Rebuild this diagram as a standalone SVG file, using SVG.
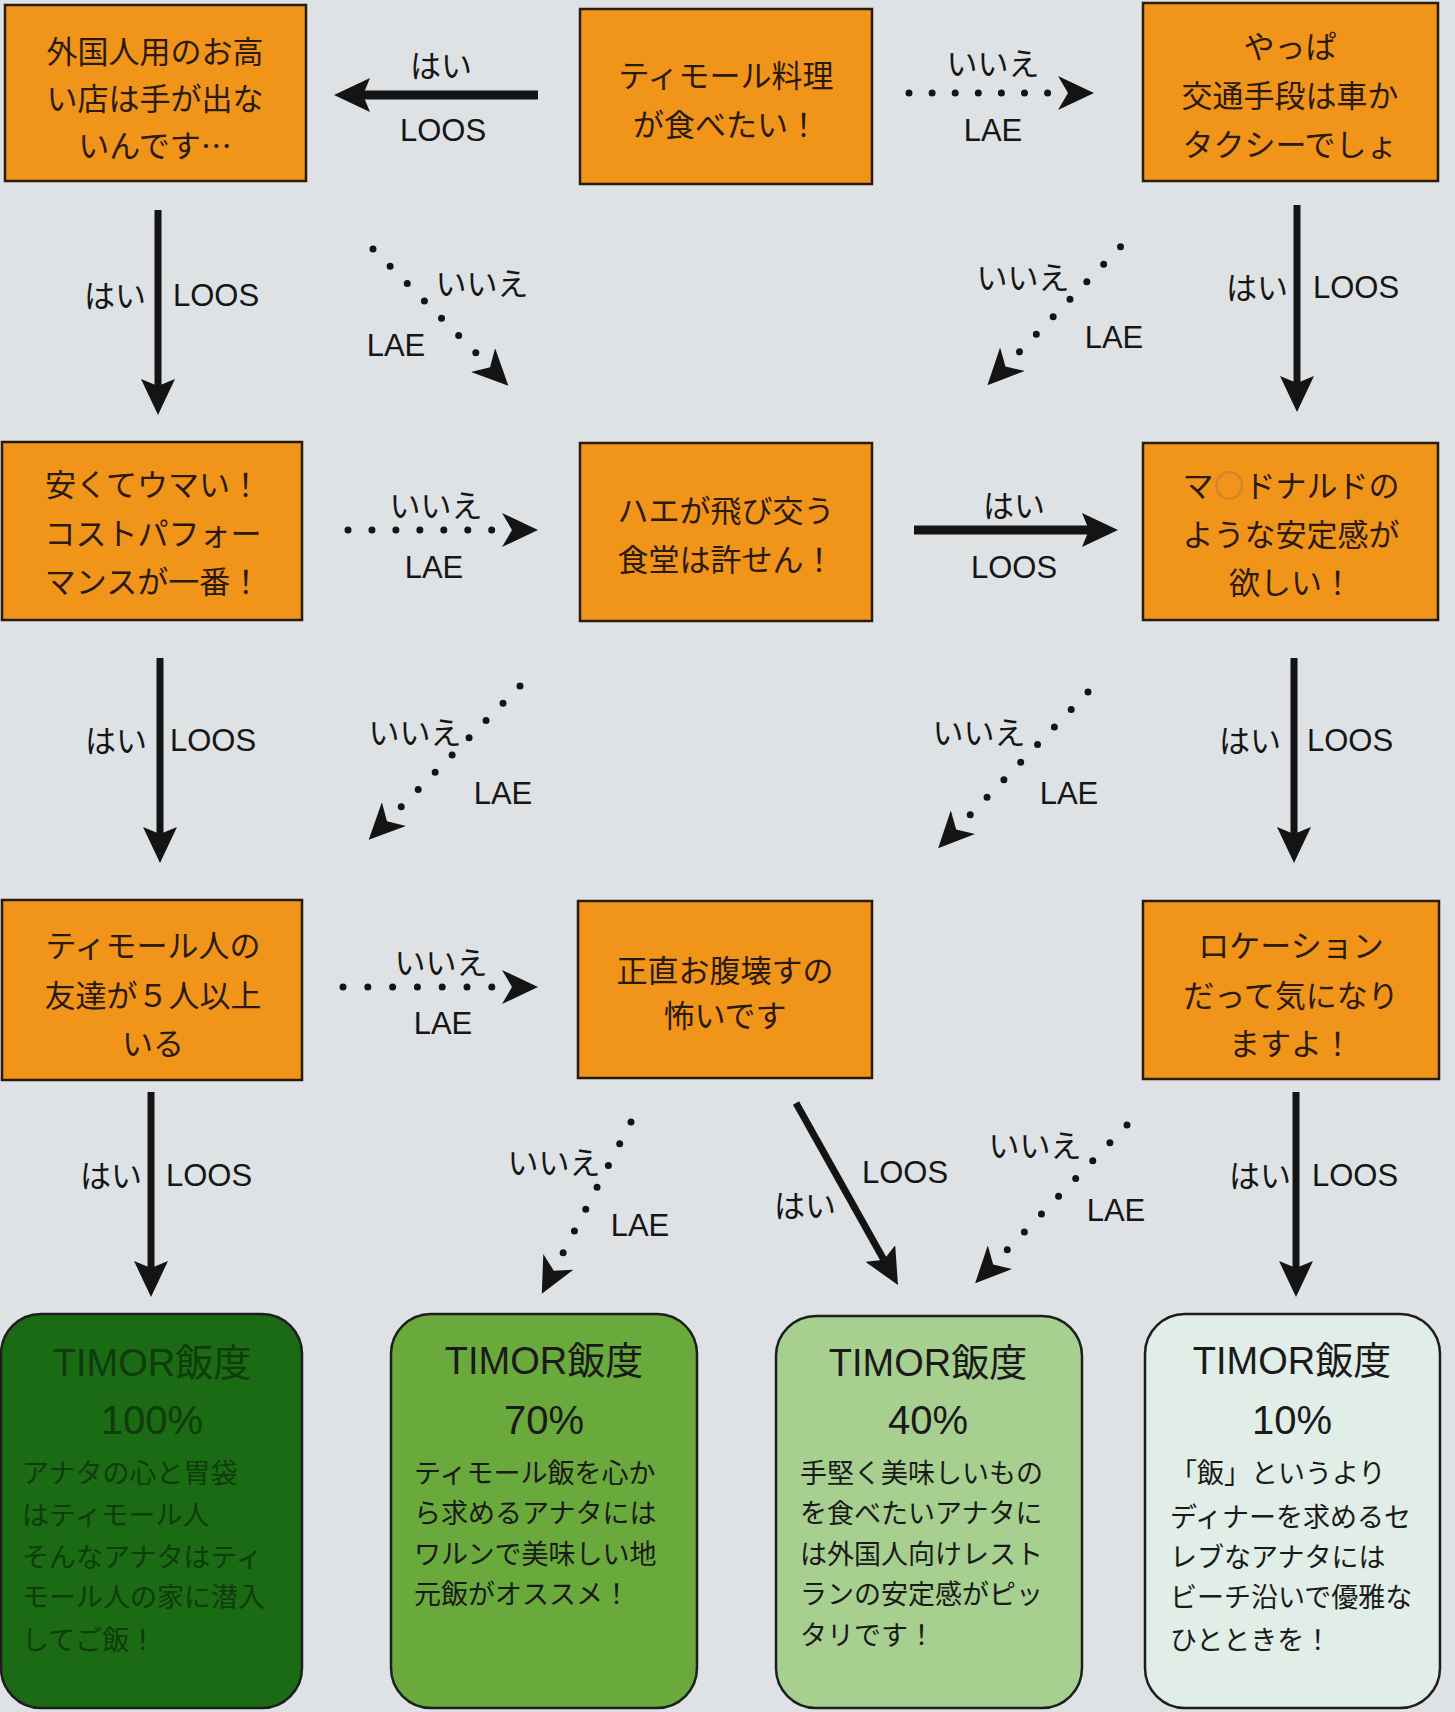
<svg xmlns="http://www.w3.org/2000/svg" width="1455" height="1712" viewBox="0 0 1455 1712">
<defs>
<style>
.bg{fill:#dfe2e4}
.q rect{fill:#f0951a;stroke:#2b1a0e;stroke-width:2.5}
.q text{font-family:"Noto Sans CJK JP",sans-serif;font-size:31px;fill:#2b1a0e;text-anchor:middle}
.r rect{stroke:#1e1e1e;stroke-width:2.5}
.r text{fill:#1a1a1a}
.r .t{font-family:"Liberation Sans","Noto Sans CJK JP",sans-serif;font-size:38px;text-anchor:middle}
.r .p{font-family:"Liberation Sans",sans-serif;font-size:40px;text-anchor:middle}
.r .b{font-family:"Noto Sans CJK JP",sans-serif;font-size:27px}
#r1 text{fill:#0f3c0c}
.solid{stroke:#141414;stroke-width:7;fill:none;marker-end:url(#sh)}
.hz{stroke-width:9}
.dot{stroke:#141414;stroke-width:7;stroke-linecap:round;fill:none;marker-end:url(#dh)}
.lj{font-family:"Noto Sans CJK JP",sans-serif;font-size:31px;fill:#161616;text-anchor:middle}
.ll{font-family:"Liberation Sans",sans-serif;font-size:31px;fill:#161616;text-anchor:middle}
</style>
<marker id="sh" viewBox="0 0 36 34" refX="7" refY="17" markerWidth="36" markerHeight="34" markerUnits="userSpaceOnUse" orient="auto">
<path d="M0,0 L36,17 L0,34 L7,17 Z" fill="#141414"/>
</marker>
<marker id="dh" viewBox="0 0 36 34" refX="-10" refY="17" markerWidth="36" markerHeight="34" markerUnits="userSpaceOnUse" orient="auto">
<path d="M0,0 L36,17 L0,34 L10,17 Z" fill="#141414"/>
</marker>
</defs>
<rect class="bg" x="0" y="0" width="1455" height="1712"/>

<g id="connectors">
<path class="solid hz" d="M538,95 L363,95"/>
<path class="dot" style="stroke-dasharray:0 23.1" d="M909,93 L1048,93"/>
<path class="solid" d="M158,210 L158,386"/>
<path class="dot" style="stroke-dasharray:0 24.35" d="M373,249 L476,353"/>
<path class="dot" style="stroke-dasharray:0 24.3" d="M1120.5,246.7 L1019.3,352"/>
<path class="solid" d="M1297,205 L1297,383"/>
<path class="dot" style="stroke-dasharray:0 23.95" d="M348,530 L492,530"/>
<path class="solid hz" d="M914,530 L1089,530"/>
<path class="solid" d="M160,658 L160,834"/>
<path class="dot" style="stroke-dasharray:0 24.2" d="M520,686 L401,807"/>
<path class="dot" style="stroke-dasharray:0 24.3" d="M1088,692 L970,815"/>
<path class="solid" d="M1294,658 L1294,834"/>
<path class="dot" style="stroke-dasharray:0 24.8" d="M343,987 L492,987"/>
<path class="solid" d="M151,1092 L151,1268"/>
<path class="dot" style="stroke-dasharray:0 24.55" d="M631,1122 L563,1253"/>
<path class="solid" d="M796,1103 L883.8,1259.7"/>
<path class="dot" style="stroke-dasharray:0 24.7" d="M1127,1125 L1007,1250"/>
<path class="solid" d="M1296,1092 L1296,1268"/>

<text class="lj" x="441" y="77">はい</text>
<text class="ll" x="443" y="141">LOOS</text>
<text class="lj" x="993" y="75">いいえ</text>
<text class="ll" x="993" y="141">LAE</text>
<text class="lj" x="115" y="307">はい</text>
<text class="ll" x="216" y="306">LOOS</text>
<text class="lj" x="482" y="295">いいえ</text>
<text class="ll" x="396" y="356">LAE</text>
<text class="lj" x="1023" y="289">いいえ</text>
<text class="ll" x="1114" y="348">LAE</text>
<text class="lj" x="1257" y="299">はい</text>
<text class="ll" x="1356" y="298">LOOS</text>
<text class="lj" x="436" y="517">いいえ</text>
<text class="ll" x="434" y="578">LAE</text>
<text class="lj" x="1014" y="517">はい</text>
<text class="ll" x="1014" y="578">LOOS</text>
<text class="lj" x="116" y="752">はい</text>
<text class="ll" x="213" y="751">LOOS</text>
<text class="lj" x="415" y="744">いいえ</text>
<text class="ll" x="503" y="804">LAE</text>
<text class="lj" x="979" y="744">いいえ</text>
<text class="ll" x="1069" y="804">LAE</text>
<text class="lj" x="1250" y="752">はい</text>
<text class="ll" x="1350" y="751">LOOS</text>
<text class="lj" x="441" y="974">いいえ</text>
<text class="ll" x="443" y="1034">LAE</text>
<text class="lj" x="111" y="1187">はい</text>
<text class="ll" x="209" y="1186">LOOS</text>
<text class="lj" x="554" y="1174">いいえ</text>
<text class="ll" x="640" y="1236">LAE</text>
<text class="ll" x="905" y="1183">LOOS</text>
<text class="lj" x="805" y="1217">はい</text>
<text class="lj" x="1035" y="1157">いいえ</text>
<text class="ll" x="1116" y="1221">LAE</text>
<text class="lj" x="1260" y="1187">はい</text>
<text class="ll" x="1355" y="1186">LOOS</text>
</g>

<g id="qA" class="q">
<rect x="5" y="5" width="301" height="176"/>
<text x="155" y="63">外国人用のお高</text>
<text x="155" y="110">い店は手が出な</text>
<text x="155" y="157">いんです…</text>
</g>
<g id="qB" class="q">
<rect x="580" y="9" width="292" height="175"/>
<text x="726" y="87">ティモール料理</text>
<text x="726" y="136">が食べたい！</text>
</g>
<g id="qC" class="q">
<rect x="1143" y="3" width="295" height="178"/>
<text x="1290" y="58">やっぱ</text>
<text x="1290" y="107">交通手段は車か</text>
<text x="1290" y="156">タクシーでしょ</text>
</g>
<g id="qD" class="q">
<rect x="2" y="442" width="300" height="178"/>
<text x="153" y="496">安くてウマい！</text>
<text x="153" y="545">コストパフォー</text>
<text x="153" y="593">マンスが一番！</text>
</g>
<g id="qE" class="q">
<rect x="580" y="443" width="292" height="178"/>
<text x="726" y="522">ハエが飛び交う</text>
<text x="726" y="571">食堂は許せん！</text>
</g>
<g id="qF" class="q">
<rect x="1143" y="443" width="295" height="177"/>
<text x="1291" y="497"><tspan>マ</tspan><tspan fill="#d4862a">〇</tspan><tspan>ドナルドの</tspan></text>
<text x="1291" y="546">ような安定感が</text>
<text x="1291" y="594">欲しい！</text>
</g>
<g id="qG" class="q">
<rect x="2" y="900" width="300" height="180"/>
<text x="153" y="957">ティモール人の</text>
<text x="153" y="1007">友達が５人以上</text>
<text x="153" y="1055">いる</text>
</g>
<g id="qH" class="q">
<rect x="578" y="901" width="294" height="177"/>
<text x="725" y="982">正直お腹壊すの</text>
<text x="725" y="1027">怖いです</text>
</g>
<g id="qI" class="q">
<rect x="1143" y="901" width="296" height="178"/>
<text x="1291" y="957">ロケーション</text>
<text x="1291" y="1007">だって気になり</text>
<text x="1291" y="1055">ますよ！</text>
</g>

<g id="r1" class="r">
<rect x="1" y="1314" width="301" height="394" rx="40" fill="#1b6a14"/>
<text class="t" x="152" y="1376">TIMOR飯度</text>
<text class="p" x="152" y="1434">100%</text>
<text class="b" x="22" y="1483">アナタの心と胃袋</text>
<text class="b" x="22" y="1525">はティモール人</text>
<text class="b" x="22" y="1567">そんなアナタはティ</text>
<text class="b" x="22" y="1607">モール人の家に潜入</text>
<text class="b" x="22" y="1650">してご飯！</text>
</g>
<g id="r2" class="r">
<rect x="391" y="1314" width="306" height="394" rx="40" fill="#6aa93c"/>
<text class="t" x="544" y="1374">TIMOR飯度</text>
<text class="p" x="544" y="1434">70%</text>
<text class="b" x="414" y="1483">ティモール飯を心か</text>
<text class="b" x="414" y="1523">ら求めるアナタには</text>
<text class="b" x="414" y="1564">ワルンで美味しい地</text>
<text class="b" x="414" y="1604">元飯がオススメ！</text>
</g>
<g id="r3" class="r">
<rect x="776" y="1316" width="306" height="392" rx="40" fill="#a6cf90"/>
<text class="t" x="928" y="1376">TIMOR飯度</text>
<text class="p" x="928" y="1434">40%</text>
<text class="b" x="800" y="1483">手堅く美味しいもの</text>
<text class="b" x="800" y="1523">を食べたいアナタに</text>
<text class="b" x="800" y="1564">は外国人向けレスト</text>
<text class="b" x="800" y="1604">ランの安定感がピッ</text>
<text class="b" x="800" y="1645">タリです！</text>
</g>
<g id="r4" class="r">
<rect x="1145" y="1314" width="295" height="394" rx="40" fill="#e1ede7"/>
<text class="t" x="1292" y="1374">TIMOR飯度</text>
<text class="p" x="1292" y="1434">10%</text>
<text class="b" x="1170" y="1483">「飯」というより</text>
<text class="b" x="1170" y="1527">ディナーを求めるセ</text>
<text class="b" x="1170" y="1567">レブなアナタには</text>
<text class="b" x="1170" y="1607">ビーチ沿いで優雅な</text>
<text class="b" x="1170" y="1650">ひとときを！</text>
</g>
</svg>
